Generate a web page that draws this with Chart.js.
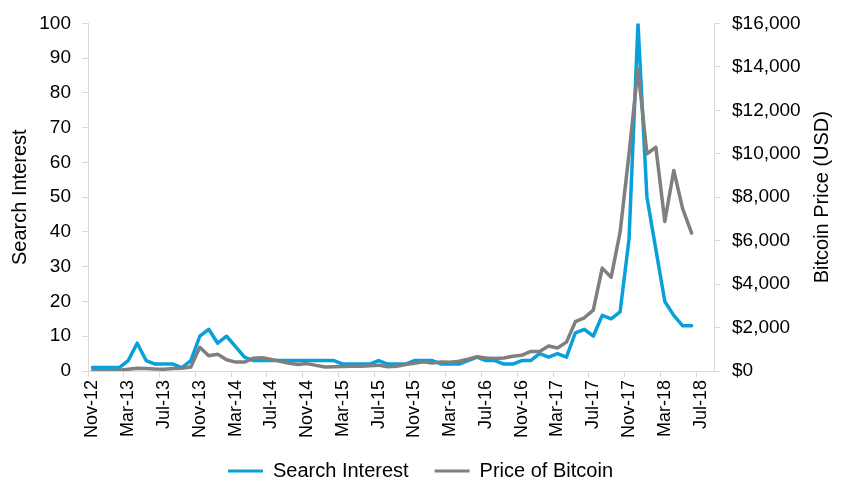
<!DOCTYPE html>
<html>
<head>
<meta charset="utf-8">
<script src="https://cdn.jsdelivr.net/npm/chart.js@4.4.0/dist/chart.umd.min.js"></script>
<style>
html,body{margin:0;padding:0;background:#ffffff;}
#wrap{width:841px;height:483px;}
</style>
</head>
<body>
<div id="wrap"><canvas id="c" width="841" height="483"></canvas></div>
<script>
const months = [
  'Nov-12','Dec-12',
  'Jan-13','Feb-13','Mar-13','Apr-13','May-13','Jun-13','Jul-13','Aug-13','Sep-13','Oct-13','Nov-13','Dec-13',
  'Jan-14','Feb-14','Mar-14','Apr-14','May-14','Jun-14','Jul-14','Aug-14','Sep-14','Oct-14','Nov-14','Dec-14',
  'Jan-15','Feb-15','Mar-15','Apr-15','May-15','Jun-15','Jul-15','Aug-15','Sep-15','Oct-15','Nov-15','Dec-15',
  'Jan-16','Feb-16','Mar-16','Apr-16','May-16','Jun-16','Jul-16','Aug-16','Sep-16','Oct-16','Nov-16','Dec-16',
  'Jan-17','Feb-17','Mar-17','Apr-17','May-17','Jun-17','Jul-17','Aug-17','Sep-17','Oct-17','Nov-17','Dec-17',
  'Jan-18','Feb-18','Mar-18','Apr-18','May-18','Jun-18','Jul-18','Aug-18'
];

const searchInterest = [
  1, 1,
  1, 1, 3, 8, 3, 2, 2, 2, 1, 3, 10, 12,
  8, 10, 7, 4, 3, 3, 3, 3, 3, 3, 3, 3,
  3, 3, 2, 2, 2, 2, 3, 2, 2, 2, 3, 3,
  3, 2, 2, 2, 3, 4, 3, 3, 2, 2, 3, 3,
  5, 4, 5, 4, 11, 12, 10, 16, 15, 17, 38, 100,
  50, 35, 20, 16, 13, 13
];

const bitcoinPrice = [
  11, 13,
  15, 30, 80, 130, 110, 90, 80, 110, 130, 180, 1090, 700,
  770, 520, 410, 410, 590, 610, 530, 450, 360, 300, 340, 260,
  180, 200, 210, 215, 215, 240, 270, 200, 220, 300, 360, 420,
  370, 420, 400, 450, 540, 660, 600, 570, 600, 680, 720, 900,
  900, 1150, 1060, 1330, 2270, 2450, 2800, 4735, 4320, 6390, 10000, 13900,
  10000, 10300, 6880, 9230, 7460, 6350
];

const seriesNames = ['Search Interest', 'Price of Bitcoin'];
const axisTitles = ['Search Interest', 'Bitcoin Price (USD)'];

const BLUE = '#08A0DA';
const GRAY = '#7F7F7F';
const AXIS = '#D9D9D9';
const FONT = "'Liberation Sans', Arial, sans-serif";

// Right-axis title drawn reading bottom-to-top (as in the reference)
const rightTitlePlugin = {
  id: 'rightTitle',
  afterDraw(chart) {
    const s = chart.scales.y1;
    const c = chart.ctx;
    c.save();
    c.font = '20px ' + FONT;
    c.fillStyle = '#000';
    c.textAlign = 'center';
    c.textBaseline = 'middle';
    c.translate(s.right - 19, (chart.chartArea.top + chart.chartArea.bottom) / 2);
    c.rotate(-Math.PI / 2);
    c.fillText(axisTitles[1], 0, 0);
    c.restore();
  }
};

const ctx = document.getElementById('c').getContext('2d');
new Chart(ctx, {
  type: 'line',
  data: {
    labels: months,
    datasets: [
      {
        label: seriesNames[0],
        data: searchInterest,
        yAxisID: 'y',
        borderColor: BLUE,
        backgroundColor: BLUE,
        borderWidth: 3.5,
        pointRadius: 0,
        tension: 0,
        borderJoinStyle: 'round',
        borderCapStyle: 'round',
        order: 1
      },
      {
        label: seriesNames[1],
        data: bitcoinPrice,
        yAxisID: 'y1',
        borderColor: GRAY,
        backgroundColor: GRAY,
        borderWidth: 3.5,
        pointRadius: 0,
        tension: 0,
        borderJoinStyle: 'round',
        borderCapStyle: 'round',
        order: 0
      }
    ]
  },
  plugins: [rightTitlePlugin],
  options: {
    responsive: false,
    animation: false,
    devicePixelRatio: 1,
    layout: { padding: { top: 19, right: 0, bottom: -8, left: 0 } },
    plugins: {
      tooltip: { enabled: false },
      legend: {
        position: 'bottom',
        labels: {
          font: { family: FONT, size: 20 },
          color: '#000',
          boxWidth: 35,
          boxHeight: 3,
          padding: 26,
          sort: (a, b) => a.datasetIndex - b.datasetIndex,
          generateLabels: (chart) =>
            Chart.defaults.plugins.legend.labels.generateLabels(chart).map(l => ({
              ...l, lineWidth: 0, fillStyle: l.strokeStyle
            }))
        }
      }
    },
    scales: {
      x: {
        type: 'category',
        offset: true,
        grid: {
          offset: true,
          drawOnChartArea: false,
          drawTicks: true,
          tickLength: 6,
          color: (c) => (c.index !== undefined && c.index % 4 === 0) ? AXIS : 'rgba(0,0,0,0)'
        },
        border: { display: true, color: AXIS, width: 1 },
        ticks: {
          autoSkip: false,
          maxRotation: 90,
          minRotation: 90,
          padding: 3,
          color: '#000',
          font: { family: FONT, size: 18 },
          callback: (v, i) => (i % 4 === 0 ? months[i] : '')
        },
        afterFit: (s) => {
          s.height = 64;
          // let the rotated labels extend below the scale box without clipping
          s._computeLabelArea = () => undefined;
        }
      },
      y: {
        position: 'left',
        min: 0,
        max: 100,
        ticks: {
          stepSize: 10,
          padding: 11,
          color: '#000',
          font: { family: FONT, size: 19 }
        },
        grid: { drawOnChartArea: false, drawTicks: true, tickLength: 6, color: AXIS },
        border: { display: true, color: AXIS, width: 1 },
        title: {
          display: true,
          text: axisTitles[0],
          color: '#000',
          font: { family: FONT, size: 20 },
          padding: { top: 8, bottom: 0 }
        },
        afterFit: (s) => { s.width = 88; }
      },
      y1: {
        position: 'right',
        min: 0,
        max: 16000,
        ticks: {
          stepSize: 2000,
          padding: 12,
          color: '#000',
          font: { family: FONT, size: 19 },
          callback: (v) => '$' + Number(v).toLocaleString('en-US')
        },
        grid: { drawOnChartArea: false, drawTicks: true, tickLength: 6, color: AXIS },
        border: { display: true, color: AXIS, width: 1 },
        afterFit: (s) => { s.width = 127; }
      }
    }
  }
});
</script>
</body>
</html>
